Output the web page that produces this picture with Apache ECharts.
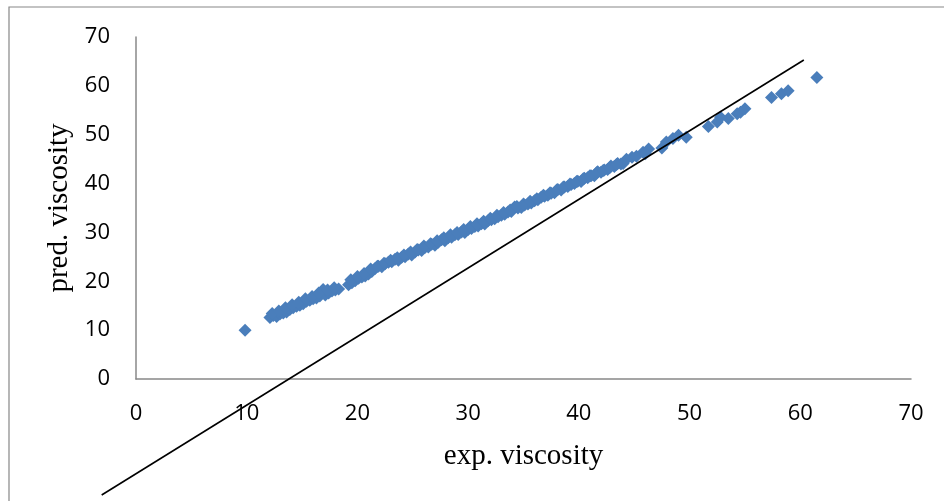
<!DOCTYPE html>
<html><head><meta charset="utf-8">
<script src="https://cdn.jsdelivr.net/npm/echarts@6/dist/echarts.min.js"></script>
<style>html,body{margin:0;padding:0;background:#fff}#c{width:944px;height:501px}</style>
</head><body><div id="c"></div>
<script>
// axis ticks
var xTicks = [0, 10, 20, 30, 40, 50, 60, 70];
var yTicks = [0, 10, 20, 30, 40, 50, 60, 70];
// experimental viscosity (x) and predicted viscosity (y)
var expVisc = [9.85,
 12.1,12.4,12.7,13.0,13.3,13.6,13.9,14.2,14.5,14.8,15.1,15.4,15.7,16.0,16.3,16.6,16.9,17.1,17.4,17.7,18.0,18.3,
 19.2,19.5,19.8,20.1,20.4,20.7,21.0,
 21.3,21.6,21.9,22.2,22.5,22.8,23.1,23.4,23.7,24.0,24.3,24.6,24.9,25.2,25.5,25.8,26.1,26.4,26.7,27.0,27.3,27.6,27.9,28.2,28.5,28.8,29.1,29.4,29.7,30.0,30.3,30.6,30.9,31.2,31.5,31.8,32.1,32.4,32.7,33.0,33.3,33.6,33.9,34.2,34.5,34.8,35.1,35.4,35.7,36.0,36.3,36.6,36.9,37.2,37.5,37.8,38.1,38.4,38.7,39.0,39.3,39.6,39.9,40.2,40.5,40.8,41.1,41.4,41.7,42.0,42.3,42.6,42.9,43.2,43.5,43.8,
 44.0,44.8,45.8,46.3,47.5,47.9,48.5,49.0,49.7,51.7,52.5,52.8,53.5,54.3,54.6,55.0,57.4,58.3,58.9,61.5];
var predVisc = [10.0,
 12.6,13.0,12.8,13.3,13.5,13.7,14.2,14.6,14.9,15.1,15.4,15.9,16.1,16.4,16.6,17.0,18.3,17.2,17.6,18.0,18.2,18.4,
 19.3,19.7,20.1,20.6,20.9,21.1,21.5,
 22.0,22.6,23.1,23.0,23.6,23.9,24.0,24.5,24.3,24.9,25.0,25.6,25.4,26.0,26.4,26.3,26.9,27.0,27.6,27.4,28.0,28.5,28.3,28.9,29.0,29.5,29.6,30.1,30.0,30.6,30.8,31.2,31.3,31.8,31.7,32.4,32.6,32.8,33.2,33.5,33.7,34.2,34.3,35.2,35.0,35.1,35.6,35.8,36.0,36.5,36.7,37.2,37.4,37.6,38.0,38.1,38.8,38.7,39.3,39.4,39.8,40.0,40.5,40.4,41.1,41.2,41.6,41.6,42.4,42.3,42.8,42.9,43.6,43.5,44.1,44.0,
 44.1,45.4,46.4,47.1,47.3,48.5,49.2,49.9,49.5,51.7,52.6,53.6,53.3,54.3,54.6,55.3,57.6,58.4,59.0,61.7];
// second group of measured points inside the dense band
var expVisc2 = [12.3,12.9,13.5,14.1,14.7,15.3,15.9,16.5,17.3,17.9,19.4,20.0,20.6,21.2,21.8,22.4,23.0,23.6,24.2,24.8,25.4,26.0,26.6,27.2,27.8,28.4,29.0,29.6,30.2,30.8,31.4,32.0,32.6,33.2,33.8,34.4,35.0,35.6,36.2,36.8,37.4,38.0,38.6,39.2,39.8,40.4,41.0,41.6,42.2,42.8,43.4,44.3,45.2,46.0];
var predVisc2 = [13.4,13.9,14.6,15.2,15.7,16.4,16.9,17.6,18.2,18.7,20.3,21.0,21.6,22.5,23.1,23.7,24.3,24.8,25.4,26.0,26.5,27.2,27.7,28.3,28.9,29.5,30.0,30.6,31.2,31.8,32.3,32.9,33.5,34.1,34.6,35.3,35.8,36.4,36.9,37.6,38.1,38.7,39.3,39.9,40.4,41.0,41.6,42.2,42.7,43.3,43.9,45.0,45.6,46.1];
// reference straight line end points
var lineX = [-3.1, 60.32];
var lineY = [-23.74, 65.29];

var pts = expVisc.map(function(v, i){ return [v, predVisc[i]]; })
  .concat(expVisc2.map(function(v, i){ return [v, predVisc2[i]]; }));

var chart = echarts.init(document.getElementById('c'), null, {renderer: 'canvas'});
var labelFont = {color: '#000', fontFamily: 'Open Sans', fontSize: 22};
var nameFont = {color: '#000', fontFamily: 'Liberation Serif', fontSize: 29};
chart.setOption({
  animation: false,
  backgroundColor: '#fff',
  grid: {left: 136, top: 37, right: 33, bottom: 122, containLabel: false},
  xAxis: {type: 'value', min: 0, max: 70, interval: 10,
    name: 'exp. viscosity', nameLocation: 'middle', nameGap: 63, nameTextStyle: nameFont,
    axisLine: {show: true, onZero: false, lineStyle: {color: '#888', width: 1.5}},
    axisTick: {show: false}, splitLine: {show: false},
    axisLabel: Object.assign({margin: 24, formatter: function(v){ return xTicks.indexOf(v) >= 0 ? String(v) : ''; }}, labelFont)},
  yAxis: {type: 'value', min: 0, max: 70, interval: 10,
    name: 'pred. viscosity', nameLocation: 'middle', nameGap: 58, nameTextStyle: nameFont,
    axisLine: {show: true, onZero: false, lineStyle: {color: '#888', width: 1.5}},
    axisTick: {show: false}, splitLine: {show: false},
    axisLabel: Object.assign({margin: 26, formatter: function(v){ return yTicks.indexOf(v) >= 0 ? String(v) : ''; }}, labelFont)},
  series: [
    {type: 'scatter', data: pts, symbol: 'diamond', symbolSize: 13,
      itemStyle: {color: '#4a7ebb', opacity: 1}, z: 2}
  ]
});
var p0 = chart.convertToPixel({gridIndex: 0}, [lineX[0], lineY[0]]);
var p1 = chart.convertToPixel({gridIndex: 0}, [lineX[1], lineY[1]]);
chart.setOption({
  graphic: [
    {type: 'rect', shape: {x: 9, y: 7, width: 1000, height: 600},
      style: {fill: 'none', stroke: '#878787', lineWidth: 1.2}, z: -1},
    {type: 'line', shape: {x1: p0[0], y1: p0[1], x2: p1[0], y2: p1[1]},
      style: {stroke: '#000', lineWidth: 1.6}, z: 10}
  ]
});
</script></body></html>
